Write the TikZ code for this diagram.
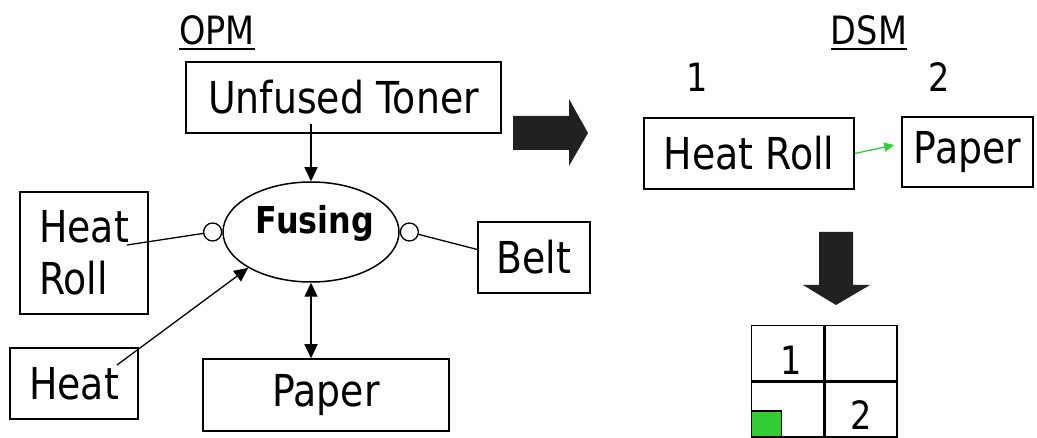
\documentclass[tikz,border=0pt]{standalone}
\usepackage{fontspec}
\setmainfont{DejaVu Sans}[FakeStretch=0.86]
\usetikzlibrary{shapes,positioning,arrows.meta}

\definecolor{dsmgreen}{HTML}{33CC33}

\tikzset{
    every node/.style={font=\fontsize{44}{52}\selectfont},
    title/.style={inner sep=0pt, font=\fontsize{39}{46}\selectfont},
    block/.style={draw, line width=1.5pt, minimum height=71pt, inner sep=0pt},
    oval/.style={draw, ellipse, line width=1.5pt, minimum width=176pt, minimum height=100pt, inner sep=0pt},
    knob/.style={draw, circle, line width=1.3pt, minimum size=18pt, inner sep=0pt},
    cell/.style={draw, line width=1.5pt, minimum width=72pt, minimum height=55pt, inner sep=0pt},
    link/.style={line width=1.3pt},
    flow/.style={line width=1.3pt, -{Triangle[length=14pt,width=13pt]}},
    twoway/.style={line width=1.3pt, {Triangle[length=14pt,width=13pt]}-{Triangle[length=14pt,width=13pt]}},
    bigarrow/.style={fill=black!87},
}

\begin{document}
\begin{tikzpicture}[x=1pt, y=-1pt]
    \useasboundingbox (0,0) rectangle (1037,438);

    % OPM side
    \node[title] (opm) at (217,30) {OPM};
    \draw[line width=2.5pt] ([yshift=-5pt]opm.base west) -- ([yshift=-5pt]opm.base east);

    \node[block, minimum width=315pt] (toner) at (343.5,97.5) {Unfused Toner};
    \node[oval] (fusing) at (311,232) {};
    \node[font=\bfseries\fontsize{37}{44}\selectfont] (fusinglabel) at (315,223) {Fusing};
    \node[block, minimum width=128pt, minimum height=122pt, align=left] (heatroll) at (84,253) {Heat\\Roll};
    \node[block, minimum width=128pt] (heat) at (74,383.5) {Heat};
    \node[block, minimum width=246pt, minimum height=72pt] (paper) at (326,395) {Paper};
    \node[block, minimum width=112pt] (belt) at (534,257.5) {Belt};

    \node[knob, left=0pt of fusing] (rollknob) {};
    \node[knob, right=0pt of fusing] (beltknob) {};

    \coordinate (rolltail) at (127,245);
    \coordinate (heattail) at (117,365);

    \draw[flow] ([yshift=10pt]toner.south -| fusing.north) -- (fusing.north);
    \draw[link] (rolltail) -- (rollknob);
    \draw[link] (beltknob) -- ([yshift=8pt]belt.west);
    \draw[flow] (heattail) -- (fusing.south west);
    \draw[twoway] (fusing.south) -- (paper.north -| fusing.south);

    % turn into DSM
    \fill[bigarrow] (513,116) -- (569,116) -- (569,99) -- (588,133) -- (569,166) -- (569,150) -- (513,150) -- cycle;

    % DSM side
    \node[title] (dsm) at (869,30) {DSM};
    \draw[line width=2.5pt] ([yshift=-5pt]dsm.base west) -- ([yshift=-5pt]dsm.base east);
    \node[title] (one) at (697,77) {1};
    \node[title] (two) at (939,77) {2};

    \node[block, minimum width=210pt] (dsmroll) at (749,153.5) {Heat Roll};
    \node[block, minimum width=131pt, minimum height=70pt] (dsmpaper) at (967.5,152) {Paper};
    \draw[line width=1.3pt, dsmgreen, -{Triangle[length=10pt,width=9pt]}] (dsmroll.east) -- ([xshift=-7pt,yshift=7pt]dsmpaper.west);

    \fill[bigarrow] (819,232) -- (853,232) -- (853,285) -- (870,285) -- (836,305) -- (803,285) -- (819,285) -- cycle;

    % the matrix
    \node[cell] (c11) at (787.5,353) {};
    \node[cell, right=0pt of c11] (c12) {};
    \node[cell, below=0pt of c11] (c21) {};
    \node[cell, right=0pt of c21] (c22) {};
    \node[draw, line width=1.3pt, fill=dsmgreen, minimum width=30pt, minimum height=26pt, inner sep=0pt, anchor=south west] (mark) at (c21.south west) {};
    \node[title] (cellone) at (791,360) {1};
    \node[title] (celltwo) at (861,415) {2};
\end{tikzpicture}
\end{document}
